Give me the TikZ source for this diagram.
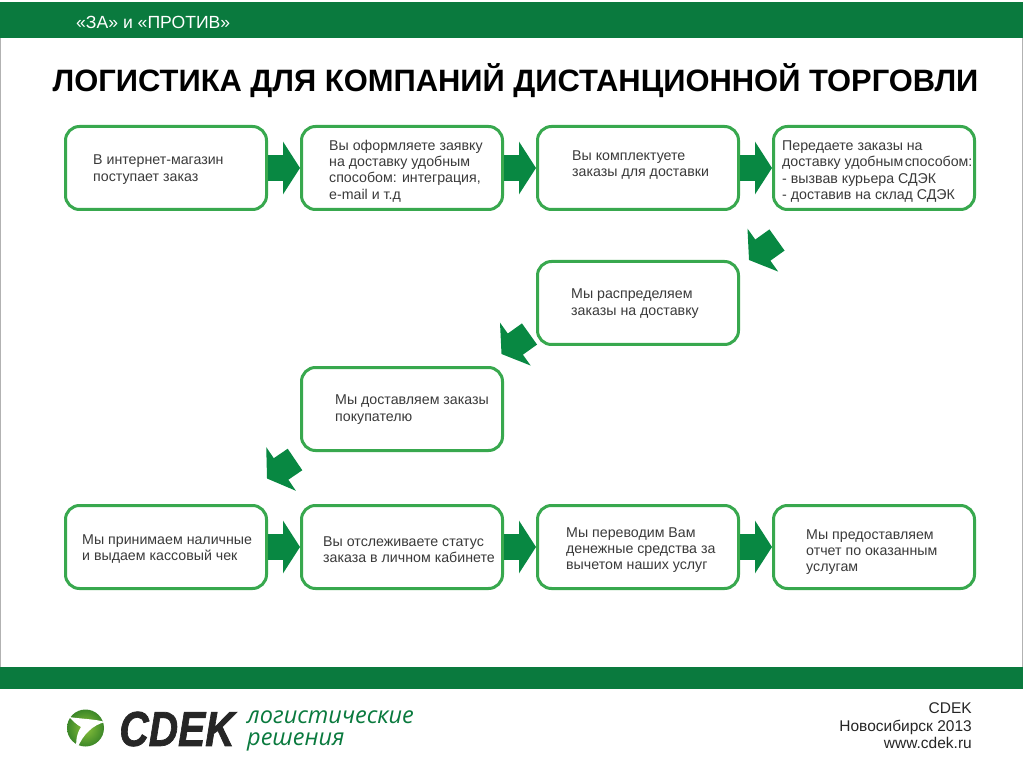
\documentclass[tikz,border=0pt]{standalone}
\usepackage{fontspec}
\setmainfont{Liberation Sans}
\newfontfamily\logofont{Open Sans}
\newfontfamily\logoblack{Liberation Sans}[BoldItalicFeatures={FakeBold=1.6}]
\usetikzlibrary{arrows.meta}
\definecolor{bargreen}{RGB}{10,122,62}
\definecolor{boxgreen}{RGB}{56,168,78}
\definecolor{arrowgreen}{RGB}{8,136,66}
\definecolor{boxtext}{RGB}{58,58,58}
\definecolor{balllight}{RGB}{140,195,60}
\definecolor{balldark}{RGB}{60,135,40}
\tikzset{
    stepbox/.style = {draw = boxgreen, line width = 3pt, rounded corners = 14pt, fill = white,
      minimum width = 201pt, minimum height = 83pt, inner sep = 0pt},
    steptext/.style = {anchor = west, align = left, inner sep = 0pt, text = boxtext,
      font = \fontsize{14.2}{16.2}\selectfont},
    blockarrow/.style = {draw = arrowgreen, line width = 26pt,
      -{Triangle[length = 17pt, width = 52pt, fill = arrowgreen]}}
}

\begin{document}
\begin{tikzpicture}[x = 1pt, y = -1pt]
    \useasboundingbox (0,0) rectangle (1023,767);
    \fill[white] (0,0) rectangle (1023,767);
    \draw[gray!60, line width = 1pt] (0.5,38) -- (0.5,667);
    \draw[gray!60, line width = 1pt] (1022.5,38) -- (1022.5,667);
    \fill[bargreen] (0,2) rectangle (1023,38);
    \fill[bargreen] (0,667) rectangle (1023,689);

    \node[text = white, font = \fontsize{17.6}{20}\selectfont, anchor = west, inner sep = 0pt] (head) at (76,22) {«ЗА» и «ПРОТИВ»};
    \node[font = \fontsize{30.9}{34}\selectfont\bfseries, inner sep = 0pt] (title) at (515.5,81) {ЛОГИСТИКА ДЛЯ КОМПАНИЙ ДИСТАНЦИОННОЙ ТОРГОВЛИ};

    \node[stepbox] (order) at (166,168) {};
    \node[stepbox] (request) at (402,168) {};
    \node[stepbox] (pack) at (638,168) {};
    \node[stepbox] (handover) at (874,168) {};
    \node[stepbox] (sort) at (638,303) {};
    \node[stepbox] (deliver) at (402,409) {};
    \node[stepbox] (cash) at (166,547) {};
    \node[stepbox] (track) at (402,547) {};
    \node[stepbox] (transfer) at (638,547) {};
    \node[stepbox] (report) at (874,547) {};

    \node[steptext] (ordertext) at (93,169.5) {В интернет-магазин\\поступает заказ};
    \node[steptext] (requesttext) at (329,171) {Вы оформляете заявку\\на доставку удобным\\способом: интеграция,\\e-mail и т.д};
    \node[steptext] (packtext) at (572,165) {Вы комплектуете\\заказы для доставки};
    \node[steptext] (handovertext) at (782,171.5) {Передаете заказы на\\доставку удобным\hspace{0.1em}способом:\\- вызвав курьера СДЭК\\- доставив на склад СДЭК};
    \node[steptext] (sorttext) at (571,303.5) {Мы распределяем\\заказы на доставку};
    \node[steptext] (delivertext) at (335,409.5) {Мы доставляем заказы\\покупателю};
    \node[steptext] (cashtext) at (82,549) {Мы принимаем наличные\\и выдаем кассовый чек};
    \node[steptext] (tracktext) at (323,550) {Вы отслеживаете статус\\заказа в личном кабинете};
    \node[steptext] (transfertext) at (566,550) {Мы переводим Вам\\денежные средства за\\вычетом наших услуг};
    \node[steptext] (reporttext) at (806,552) {Мы предоставляем\\отчет по оказанным\\услугам};

    \draw[blockarrow] (order) -- (request);
    \draw[blockarrow] (request) -- (pack);
    \draw[blockarrow] (pack) -- (handover);
    \draw[blockarrow] (cash) -- (track);
    \draw[blockarrow] (track) -- (transfer);
    \draw[blockarrow] (transfer) -- (report);

    % diagonal ones stop short of the boxes
    \coordinate (handoverout) at ([shift = {(5,29)}]handover.south west);
    \coordinate (sortin) at ([shift = {(9,0)}]sort.north east);
    \coordinate (sortout) at ([shift = {(-6.5,-12)}]sort.south west);
    \coordinate (deliverin) at ([shift = {(-2.5,-12)}]deliver.north east);
    \coordinate (deliverout) at ([shift = {(-5,7.5)}]deliver.south west);
    \coordinate (cashin) at ([shift = {(-1,-25.5)}]cash.north east);
    \draw[blockarrow] (handoverout) -- (sortin);
    \draw[blockarrow] (sortout) -- (deliverin);
    \draw[blockarrow] (deliverout) -- (cashin);

    % logo
    \shade[inner color = balllight, outer color = balldark] (85.5,728) circle (18.5);
    \fill[white] (69,717) .. controls (82,719) and (95,719) .. (105,722) .. controls (93,725) and (83,734) .. (77,749)
      .. controls (75,742) and (77,733) .. (81,727) .. controls (77,725) and (73,721) .. (69,717) -- cycle;
    \node[font = \logoblack\fontsize{49}{49}\selectfont\bfseries\itshape, text = black!85, xscale = 0.83, inner sep = 0pt] (logo) at (177,729) {CDEK};
    \node[font = \logofont\itshape\fontsize{23.5}{22.5}\selectfont, text = bargreen, anchor = west, align = left, inner sep = 0pt] (slogan) at (247,731) {логистические\\решения};

    \node[font = \fontsize{15.5}{17.5}\selectfont, text = black!85, anchor = east, align = right, inner sep = 0pt] (footer) at (972,726) {CDEK\\Новосибирск 2013\\www.cdek.ru};
\end{tikzpicture}
\end{document}
